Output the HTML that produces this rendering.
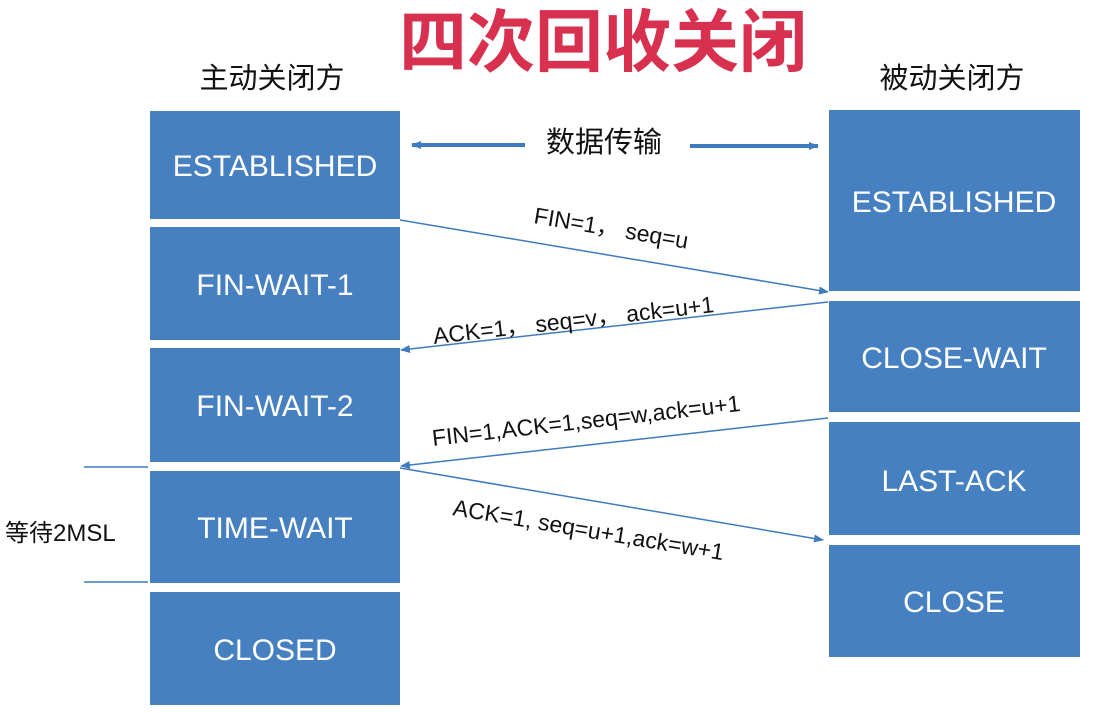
<!DOCTYPE html>
<html><head><meta charset="utf-8"><style>
html,body{margin:0;padding:0;background:#fff;}
svg{display:block}
</style></head><body>
<svg width="1094" height="713" viewBox="0 0 1094 713" xmlns="http://www.w3.org/2000/svg">
<defs><marker id="ah" markerWidth="10" markerHeight="10" refX="9" refY="5" orient="auto" markerUnits="userSpaceOnUse"><path d="M0,1 L10,5 L0,9 Z" fill="#3f7bbf"/></marker></defs>
<g fill="#4680c0">
<rect x="150" y="111" width="250" height="108"/>
<rect x="150" y="227" width="250" height="113"/>
<rect x="150" y="348" width="250" height="114"/>
<rect x="150" y="471" width="250" height="112"/>
<rect x="150" y="592" width="250" height="113"/>
<rect x="829" y="110" width="251" height="181"/>
<rect x="829" y="301" width="251" height="111"/>
<rect x="829" y="422" width="251" height="113"/>
<rect x="829" y="545" width="251" height="112"/>
</g>
<g fill="#fff" font-family="Liberation Sans, sans-serif" font-size="30" text-anchor="middle">
<text x="275" y="176">ESTABLISHED</text>
<text x="275" y="295">FIN-WAIT-1</text>
<text x="275" y="416">FIN-WAIT-2</text>
<text x="275" y="538">TIME-WAIT</text>
<text x="275" y="660">CLOSED</text>
<text x="954" y="212">ESTABLISHED</text>
<text x="954" y="368">CLOSE-WAIT</text>
<text x="954" y="491">LAST-ACK</text>
<text x="954" y="612">CLOSE</text>
</g>
<text x="603" y="66" text-anchor="middle" font-family="Liberation Sans, Noto Sans CJK SC, sans-serif" font-weight="bold" font-size="68" fill="#d8304f">四次回收关闭</text>
<g font-family="Liberation Sans, Noto Sans CJK SC, sans-serif" fill="#111">
<text x="272" y="88" font-size="29" text-anchor="middle">主动关闭方</text>
<text x="952" y="88" font-size="29" text-anchor="middle">被动关闭方</text>
<text x="604" y="152" font-size="29" text-anchor="middle">数据传输</text>
<text x="5" y="541" font-size="24">等待2MSL</text>
</g>
<g stroke="#3f7bbf" stroke-width="4">
<line x1="525" y1="145" x2="412" y2="145" marker-end="url(#ah)"/>
<line x1="690" y1="146" x2="818" y2="146" marker-end="url(#ah)"/>
</g>
<g stroke="#3f7bbf" stroke-width="1.5" fill="none">
<line x1="400" y1="220" x2="828" y2="292" marker-end="url(#ah)"/>
<line x1="828" y1="302" x2="401" y2="350" marker-end="url(#ah)"/>
<line x1="828" y1="418" x2="401" y2="466" marker-end="url(#ah)"/>
<line x1="400" y1="468" x2="823" y2="540" marker-end="url(#ah)"/>
<line x1="84" y1="467" x2="148" y2="467"/>
<line x1="84" y1="582" x2="148" y2="582"/>
</g>
<g font-family="Liberation Sans, Noto Sans CJK SC, sans-serif" font-size="23" fill="#111">
<text transform="translate(533,223) rotate(9.5)">FIN=1， seq=u</text>
<text transform="translate(434,344) rotate(-6.5)">ACK=1， seq=v， ack=u+1</text>
<text transform="translate(433,446) rotate(-6.5)">FIN=1,ACK=1,seq=w,ack=u+1</text>
<text transform="translate(452,515) rotate(9.5)">ACK=1, seq=u+1,ack=w+1</text>
</g>
</svg>
</body></html>
